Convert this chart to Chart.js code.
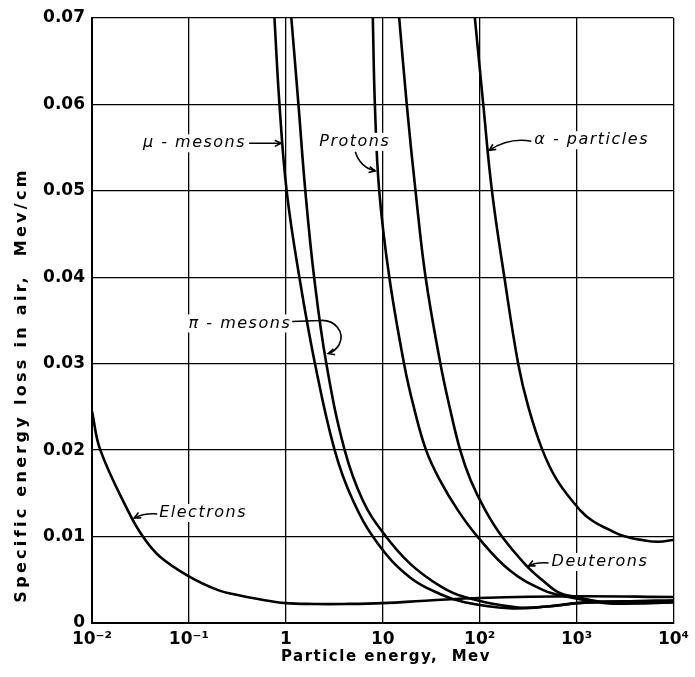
<!DOCTYPE html>
<html>
<head>
<meta charset="utf-8">
<script src="https://cdn.jsdelivr.net/npm/chart.js@4.4.1/dist/chart.umd.min.js"></script>
<style>
  body { margin: 0; background: #fff; }
  canvas { display: block; }
</style>
</head>
<body>
<canvas id="my-chart" width="695" height="677"></canvas>
<script>
// energy loss curves, energy in Mev, loss in Mev/cm
const electronE = [0.01, 0.0122, 0.024, 0.0335, 0.05, 0.1, 0.2, 0.3, 0.5, 1, 2, 4, 10, 30, 100, 1000, 10000];
const electronLoss = [0.0245, 0.020, 0.0128, 0.010, 0.0077, 0.0054, 0.0038, 0.0033, 0.0028, 0.0023, 0.0022, 0.0022, 0.0023, 0.0026, 0.0029, 0.0031, 0.0030];

const muonE = [0.763, 0.86, 1.02, 1.38, 2.0, 3.19, 4.92, 8.9, 19, 40, 70, 200, 500, 1000, 3000, 10000];
const muonLoss = [0.07, 0.06, 0.05, 0.04, 0.03, 0.02, 0.0142, 0.0092, 0.0053, 0.0033, 0.0024, 0.0017, 0.0019, 0.0023, 0.0025, 0.0026];

const pionE = [1.14, 1.35, 1.59, 1.96, 2.62, 4.05, 6.22, 10, 19, 40, 70, 250, 600, 1000, 3000, 10000];
const pionLoss = [0.07, 0.06, 0.05, 0.04, 0.03, 0.02, 0.0142, 0.0105, 0.0069, 0.0042, 0.0030, 0.0018, 0.0020, 0.0023, 0.0025, 0.0026];

const protonE = [7.9, 8.3, 9.2, 11.7, 16.6, 20.9, 28.0, 39, 60, 95, 204, 454, 830, 2000, 5000, 10000];
const protonLoss = [0.07, 0.06, 0.05, 0.04, 0.03, 0.025, 0.02, 0.0165, 0.013, 0.010, 0.0061, 0.0038, 0.0030, 0.0023, 0.0023, 0.0024];

const deuteronE = [14.8, 17.7, 21.8, 27.7, 39.4, 49, 63, 81, 115, 170, 300, 440, 661, 1000, 2000, 5000, 10000];
const deuteronLoss = [0.07, 0.06, 0.05, 0.04, 0.03, 0.025, 0.02, 0.0165, 0.013, 0.010, 0.0067, 0.0050, 0.0035, 0.0030, 0.0024, 0.0023, 0.0024];

const alphaE = [89.3, 109, 134, 180, 250, 318, 445, 631, 1080, 1470, 2170, 3000, 4750, 7000, 10000];
const alphaLoss = [0.07, 0.06, 0.05, 0.04, 0.03, 0.025, 0.02, 0.0165, 0.0131, 0.0118, 0.0108, 0.0101, 0.0096, 0.0094, 0.0096];

const energyTicks = [0.01, 0.1, 1, 10, 100, 1000, 10000];
const energyLabels = ['10⁻²', '10⁻¹', '1', '10', '10²', '10³', '10⁴'];

const toPoints = (xs, ys) => xs.map((x, i) => ({ x: x, y: ys[i] }));

const curve = (label, xs, ys) => ({
    label: label,
    data: toPoints(xs, ys),
    borderColor: '#000',
    borderWidth: 2.6,
    pointRadius: 0,
    fill: false,
    tension: 0.4,
});

function arrowHead(ctx, x, y, angle) {
    const len = 7;
    ctx.beginPath();
    ctx.moveTo(x - len * Math.cos(angle - 0.45), y - len * Math.sin(angle - 0.45));
    ctx.lineTo(x, y);
    ctx.lineTo(x - len * Math.cos(angle + 0.45), y - len * Math.sin(angle + 0.45));
    ctx.stroke();
}

function label(ctx, text, x, y, align) {
    ctx.textAlign = align;
    ctx.textBaseline = 'middle';
    const w = ctx.measureText(text).width;
    const left = align === 'right' ? x - w : x;
    ctx.fillStyle = '#fff';
    ctx.fillRect(left - 2, y - 9, w + 4, 18);
    ctx.fillStyle = '#000';
    ctx.fillText(text, x, y);
}

// axis titles and the curve labels with their pointers
const notesPlugin = {
    id: 'notes',
    afterDraw(chart) {
        const ctx = chart.ctx;
        const xs = chart.scales.x, ys = chart.scales.y;
        const at = (e, v) => ({ x: xs.getPixelForValue(e), y: ys.getPixelForValue(v) });
        ctx.save();
        ctx.fillStyle = '#000';
        ctx.strokeStyle = '#000';
        ctx.lineWidth = 1.6;

        // axis titles
        ctx.textAlign = 'center';
        ctx.textBaseline = 'middle';
        ctx.font = 'bold 15px "DejaVu Sans"';
        ctx.letterSpacing = '1.5px';
        ctx.fillText('Particle energy,  Mev', 386, 657);
        ctx.save();
        ctx.translate(22, 385);
        ctx.rotate(-Math.PI / 2);
        ctx.font = 'bold 16px "DejaVu Sans"';
        ctx.letterSpacing = '3.3px';
        ctx.fillText('Specific energy loss in air,  Mev/cm', 0, 0);
        ctx.restore();

        ctx.font = 'italic 16px "DejaVu Sans"';
        ctx.letterSpacing = '1.5px';

        // mu-mesons
        let p = at(0.96, 0.0555);
        label(ctx, 'μ - mesons', p.x - 38, p.y, 'right');
        ctx.beginPath();
        ctx.moveTo(p.x - 35, p.y);
        ctx.lineTo(p.x - 3, p.y);
        ctx.stroke();
        arrowHead(ctx, p.x - 3, p.y, 0);

        // protons
        p = at(9.0, 0.0522);
        label(ctx, 'Protons', p.x - 59, p.y - 30, 'left');
        ctx.beginPath();
        ctx.moveTo(p.x - 23, p.y - 20);
        ctx.quadraticCurveTo(p.x - 18, p.y - 4, p.x - 3, p.y - 1);
        ctx.stroke();
        arrowHead(ctx, p.x - 3, p.y - 1, Math.atan2(3, 15));

        // alpha particles
        p = at(120, 0.0547);
        label(ctx, 'α - particles', p.x + 47, p.y - 10, 'left');
        ctx.beginPath();
        ctx.moveTo(p.x + 44, p.y - 9);
        ctx.quadraticCurveTo(p.x + 22, p.y - 13, p.x + 2, p.y);
        ctx.stroke();
        arrowHead(ctx, p.x + 2, p.y, Math.atan2(13, -20));

        // pi-mesons
        p = at(2.55, 0.0313);
        label(ctx, 'π - mesons', p.x - 34, p.y - 29, 'right');
        ctx.beginPath();
        ctx.moveTo(p.x - 33, p.y - 31);
        ctx.lineTo(p.x - 5, p.y - 32);
        ctx.bezierCurveTo(p.x + 10, p.y - 33, p.x + 20, p.y - 20, p.x + 14, p.y - 8);
        ctx.quadraticCurveTo(p.x + 10, p.y - 1, p.x + 3, p.y + 1);
        ctx.stroke();
        arrowHead(ctx, p.x + 3, p.y + 1, Math.atan2(2, -7));

        // electrons
        p = at(0.026, 0.01215);
        label(ctx, 'Electrons', p.x + 27, p.y - 5, 'left');
        ctx.beginPath();
        ctx.moveTo(p.x + 25, p.y - 4);
        ctx.quadraticCurveTo(p.x + 12, p.y - 5, p.x + 2, p.y);
        ctx.stroke();
        arrowHead(ctx, p.x + 2, p.y, Math.atan2(5, -10));

        // deuterons
        p = at(305, 0.0066);
        label(ctx, 'Deuterons', p.x + 25, p.y - 4, 'left');
        ctx.beginPath();
        ctx.moveTo(p.x + 22, p.y - 3);
        ctx.quadraticCurveTo(p.x + 10, p.y - 4, p.x + 2, p.y);
        ctx.stroke();
        arrowHead(ctx, p.x + 2, p.y, Math.atan2(4, -8));

        ctx.restore();
    },
};

const ctx = document.getElementById('my-chart').getContext('2d');

const tickFont = { family: '"DejaVu Sans"', size: 17, weight: 'bold' };

let myChart = new Chart(ctx, {
    type: 'line',
    data: {
        datasets: [
            curve('Electrons', electronE, electronLoss),
            curve('μ-mesons', muonE, muonLoss),
            curve('π-mesons', pionE, pionLoss),
            curve('Protons', protonE, protonLoss),
            curve('Deuterons', deuteronE, deuteronLoss),
            curve('α-particles', alphaE, alphaLoss),
        ],
    },
    options: {
        responsive: false,
        animation: false,
        devicePixelRatio: 1,
        layout: { padding: { top: 18, right: 17, left: 0, bottom: 0 } },
        plugins: {
            legend: { display: false },
            tooltip: { enabled: false },
        },
        scales: {
            x: {
                type: 'logarithmic',
                min: 0.01,
                max: 10000,
                afterBuildTicks: (scale) => {
                    scale.ticks = energyTicks.map(v => ({ value: v, major: true }));
                },
                afterFit: (scale) => { scale.height = 54; },
                ticks: {
                    callback: (v, i) => energyLabels[i],
                    color: '#000',
                    font: tickFont,
                    padding: 6,
                    maxRotation: 0,
                    autoSkip: false,
                },
                grid: { color: '#000', lineWidth: 1.3, drawTicks: false },
                border: { color: '#000', width: 2 },
            },
            y: {
                min: 0,
                max: 0.07,
                afterFit: (scale) => { scale.width = 92; },
                ticks: {
                    stepSize: 0.01,
                    callback: (v) => (v === 0 ? '0' : v.toFixed(2)),
                    color: '#000',
                    font: tickFont,
                    padding: 7,
                },
                grid: { color: '#000', lineWidth: 1.3, drawTicks: false },
                border: { color: '#000', width: 2 },
            },
        },
    },
    plugins: [notesPlugin],
});
</script>
</body>
</html>
